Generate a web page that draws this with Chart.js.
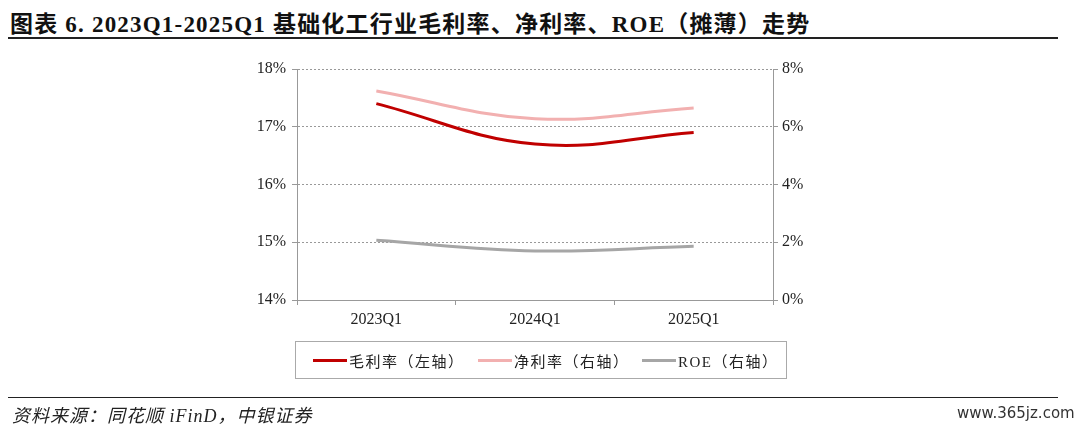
<!DOCTYPE html>
<html>
<head>
<meta charset="utf-8">
<script src="https://cdn.jsdelivr.net/npm/chart.js@4/dist/chart.umd.min.js"></script>
<style>
    body { margin: 0; width: 1080px; height: 432px; background: #fff; position: relative; overflow: hidden; }
    #title { position: absolute; left: 10px; top: 5px; font: bold 23px "Liberation Serif", "Noto Sans CJK SC"; letter-spacing: 1.2px; color: #111; white-space: nowrap; }
    .rule { position: absolute; left: 8px; width: 1050px; background: #222; }
    #chartWrap { position: absolute; left: 0; top: 0; width: 1080px; height: 432px; }
    #legend { position: absolute; left: 295px; top: 341px; width: 492px; height: 38px; border: 1px solid #aaa; box-sizing: border-box; }
    .item { position: absolute; top: 0; height: 36px; display: flex; align-items: center; font: 15px "Liberation Serif", "Noto Sans CJK SC"; letter-spacing: 1.5px; color: #222; white-space: nowrap; }
    .swatch { display: inline-block; width: 34px; height: 3px; margin-right: 2px; }
    #source { position: absolute; left: 12px; top: 401px; font: italic 18px "Liberation Serif", "Noto Sans CJK SC"; letter-spacing: 1px; color: #222; }
    #mark { position: absolute; left: 957px; top: 404px; font: 15px "DejaVu Sans"; color: #333; }
</style>
</head>
<body>
<div id="title">图表 6. 2023Q1-2025Q1 基础化工行业毛利率、净利率、ROE（摊薄）走势</div>
<div class="rule" style="top:37px;height:2px;"></div>
<div id="chartWrap"><canvas id="chart" width="1080" height="432"></canvas></div>
<div id="legend"></div>
<div class="rule" style="top:397px;height:1px;"></div>
<div id="source">资料来源：同花顺 iFinD，中银证券</div>
<div id="mark">www.365jz.com</div>
<script>
const categories = ["2023Q1", "2024Q1", "2025Q1"];
const grossMargin = [17.4, 16.7, 16.9];   // left axis
const netMargin = [7.24, 6.28, 6.65];     // right axis
const roe = [2.07, 1.70, 1.86];           // right axis
const leftTicks = [14, 15, 16, 17, 18];
const rightTicks = [0, 2, 4, 6, 8];
const legendX = [17, 182, 346];

const tickFont = { family: "Liberation Serif", size: 16 };

const ctx = document.getElementById("chart").getContext("2d");
const chart = new Chart(ctx, {
    type: "line",
    data: {
        labels: categories,
        datasets: [
            { label: "毛利率（左轴）", data: grossMargin, yAxisID: "y", borderColor: "#C00000", borderWidth: 3 },
            { label: "净利率（右轴）", data: netMargin, yAxisID: "y1", borderColor: "#F2B0B0", borderWidth: 3 },
            { label: "ROE（右轴）", data: roe, yAxisID: "y1", borderColor: "#A6A6A6", borderWidth: 3 }
        ]
    },
    options: {
        responsive: false,
        animation: false,
        elements: { point: { radius: 0 }, line: { tension: 0.4 } },
        layout: { padding: { left: 235, right: 252, top: 69, bottom: 102 } },
        plugins: { legend: { display: false }, tooltip: { enabled: false } },
        scales: {
            x: {
                offset: true,
                grid: { offset: true, drawOnChartArea: false, tickLength: 5, color: "#999" },
                border: { color: "#999" },
                ticks: { font: tickFont, color: "#222", padding: 5 },
                afterFit: s => { s.height = 30; }
            },
            y: {
                position: "left",
                min: 14, max: 18,
                afterBuildTicks: s => { s.ticks = leftTicks.map(v => ({ value: v })); },
                grid: { color: "#999", tickColor: "#999", tickLength: 5, tickBorderDash: [] },
                border: { color: "#999", dash: [2, 2] },
                ticks: { font: tickFont, color: "#222", padding: 6, callback: v => v + "%" },
                afterFit: s => { s.width = 62; }
            },
            y1: {
                position: "right",
                min: 0, max: 8,
                afterBuildTicks: s => { s.ticks = rightTicks.map(v => ({ value: v })); },
                grid: { drawOnChartArea: false, tickColor: "#999", tickLength: 5 },
                border: { color: "#999" },
                ticks: { font: tickFont, color: "#222", padding: 4, callback: v => v + "%" },
                afterFit: s => { s.width = 55; }
            }
        }
    }
});

// Legend built from the datasets
const legend = document.getElementById("legend");
chart.data.datasets.forEach((ds, i) => {
    const item = document.createElement("div");
    item.className = "item";
    item.style.left = legendX[i] + "px";
    item.innerHTML = `<span class="swatch" style="background:${ds.borderColor}"></span>${ds.label}`;
    legend.appendChild(item);
});
</script>
</body>
</html>
